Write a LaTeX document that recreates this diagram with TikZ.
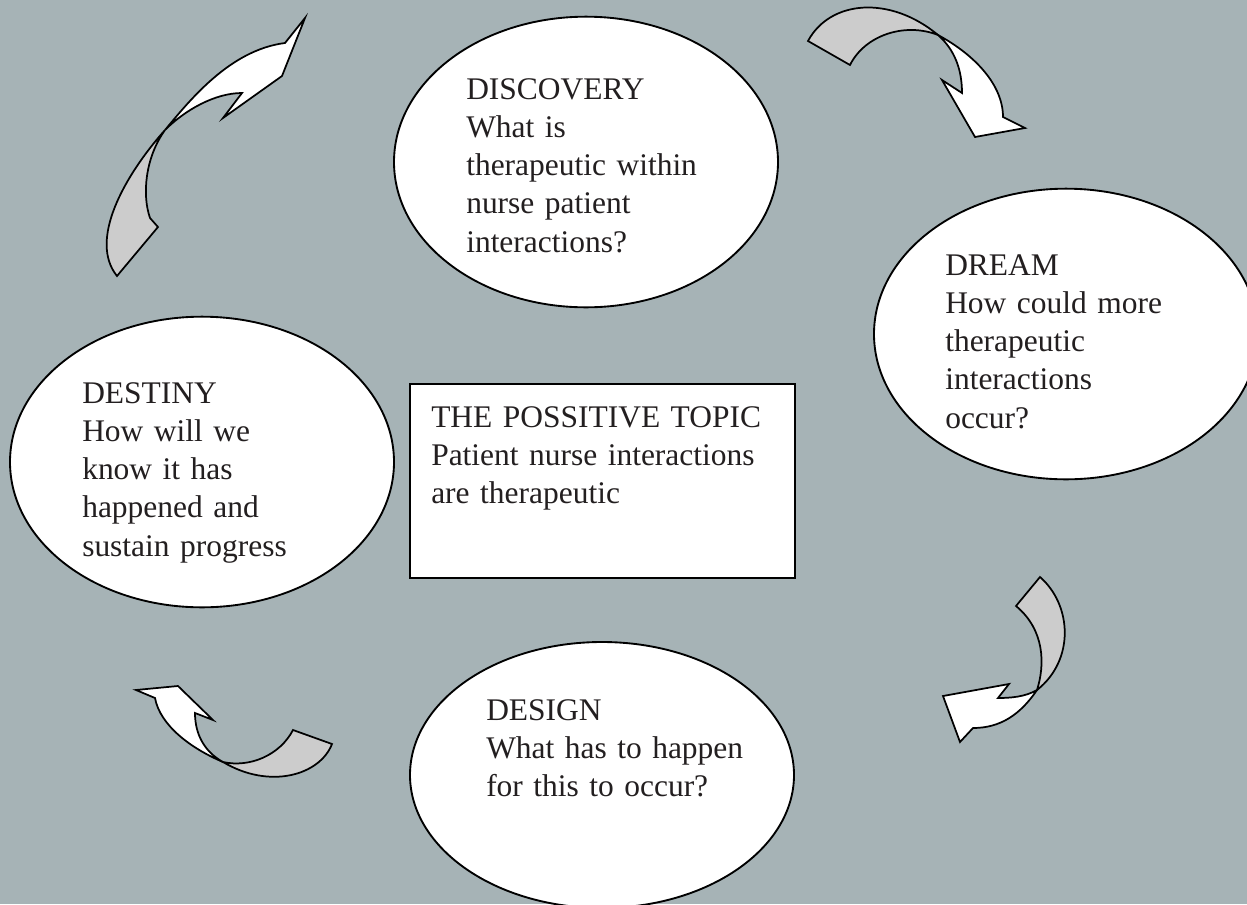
\documentclass[tikz,border=0pt]{standalone}
\usepackage{fontspec}
\setmainfont{Liberation Serif}
\usetikzlibrary{shapes.geometric}
\definecolor{bg}{HTML}{A6B3B6}
\definecolor{tailgray}{HTML}{CCCCCC}
\definecolor{ink}{HTML}{231F20}
\begin{document}
\begin{tikzpicture}[x=0.75pt,y=-0.75pt,
  bubble/.style={ellipse, draw=black, line width=1.4pt, fill=white, inner sep=0pt,
    minimum width=288pt, minimum height=218pt},
  topicbox/.style={rectangle, draw=black, line width=1.4pt, fill=white, inner sep=0pt,
    minimum width=288.75pt, minimum height=145.5pt},
  words/.style={anchor=base west, inner sep=0pt, text width=320pt, align=left, text=ink,
    font=\fontsize{23.6}{28.7}\selectfont},
  backface/.style={draw=black, line width=1.3pt, fill=tailgray, line join=miter},
  frontface/.style={draw=black, line width=1.3pt, fill=white, line join=miter}]
\useasboundingbox (0,0) rectangle (1247,904);
\clip (0,0) rectangle (1247,904);
\fill[bg] (0,0) rectangle (1247,904);

% ellipses
\node[bubble] (discovery) at (586,162) {};
\node[bubble] (dream) at (1066,334) {};
\node[bubble] (destiny) at (202,462) {};
\node[bubble, minimum height=199.5pt] (design) at (602,775) {};
\node[topicbox] (topic) at (602.5,481) {};

% texts
\node[words] (tdiscovery) at (466,99) {DISCOVERY\\What is\\therapeutic within\\nurse patient\\interactions?};
\node[words] (tdream) at (945,275) {DREAM\\How could more\\therapeutic\\interactions\\occur?};
\node[words] (tdestiny) at (82,403) {DESTINY\\How will we\\know it has\\happened and\\sustain progress};
\node[words] (tdesign) at (486,720) {DESIGN\\What has to happen\\for this to occur?};
\node[words] (ttopic) at (431,427) {THE POSSITIVE TOPIC\\Patient nurse interactions\\are therapeutic};

% arrow 1 (top left, up-right)
\draw[backface] (165,130) .. controls (125,175) and (88,240) .. (117,276) -- (158,227) -- (150,218)
  .. controls (142,195) and (145,158) .. (165,130) -- cycle;
\draw[frontface] (165,130) .. controls (190,100) and (230,50) .. (285,43) -- (305,18) -- (282,76)
  -- (223,118) -- (242,93) .. controls (215,93) and (185,110) .. (165,130) -- cycle;

% arrow 2 (top right, right-down)
\draw[backface] (808,41) .. controls (830,0) and (890,-5) .. (938,35)
  .. controls (905,22) and (865,35) .. (850,65) -- cycle;
\draw[frontface] (938,35) .. controls (975,55) and (1003,85) .. (1003,117) -- (1025,128) -- (975,137)
  -- (942,80) -- (962,93) .. controls (962,70) and (955,50) .. (938,35) -- cycle;

% arrow 3 (right, down-left)
\draw[backface] (1040,577) .. controls (1072,605) and (1075,660) .. (1037,690)
  .. controls (1045,665) and (1045,630) .. (1016,606) -- cycle;
\draw[frontface] (1037,690) .. controls (1020,715) and (1000,728) .. (973,728) -- (960,742) -- (943,696)
  -- (1009,684) -- (998,698) .. controls (1010,698) and (1025,697) .. (1037,690) -- cycle;

% arrow 4 (bottom left, up-left)
\draw[backface] (332,744) .. controls (320,775) and (270,790) .. (223,762)
  .. controls (250,768) and (280,755) .. (293,730) -- cycle;
\draw[frontface] (223,762) .. controls (190,748) and (160,725) .. (155,698) -- (136,690) -- (178,686)
  -- (213,720) -- (195,713) .. controls (195,735) and (205,752) .. (223,762) -- cycle;
\end{tikzpicture}
\end{document}
